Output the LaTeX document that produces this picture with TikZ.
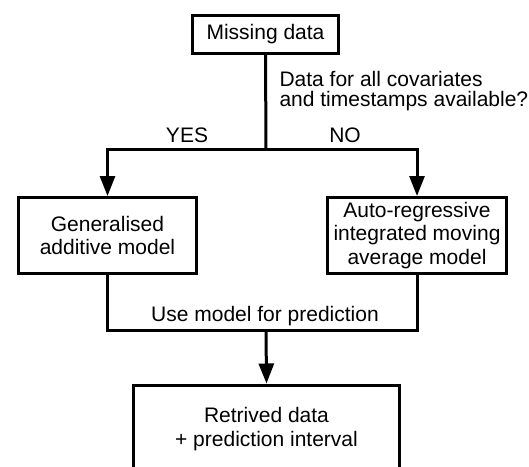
\documentclass[tikz,border=0pt]{standalone}
\usepackage{fontspec}
\setmainfont{Liberation Sans}
\usetikzlibrary{arrows.meta}
\begin{document}
\begin{tikzpicture}[x=1pt,y=-1pt,
  box/.style={draw,line width=3pt,inner sep=0pt,align=center},
  arr/.style={-{Triangle[length=20pt,width=15pt]}},
  every node/.style={font=\fontsize{21}{23.5}\selectfont}]
  \useasboundingbox (0,0) rectangle (529,466);
  \clip (0,0) rectangle (529,466);
  % boxes
  \node[box,minimum width=146,minimum height=38] (miss) at (265.5,34.5) {Missing data};
  \node[box,minimum width=178,minimum height=76] (gam) at (107.5,235.5) {Generalised\\additive model};
  \node[box,minimum width=179,minimum height=76] (arima) at (417,235.5) {Auto-regressive\\integrated moving\\average model};
  \node[box,minimum width=266,minimum height=88] (ret) at (266.5,429) {Retrived data\\+ prediction interval};
  % labels
  \node[anchor=west,align=left,font=\fontsize{21}{20}\selectfont] (quest) at (276,91) {Data for all covariates\\and timestamps available?};
  \node (yes) at (187,135) {YES};
  \node (no) at (345,135) {NO};
  \node (use) at (265,316) {Use model for prediction};
  % connectors
  \coordinate (split) at (266,149);
  \coordinate (join) at (266,330);
  \draw[line width=3pt] (miss.south) -- (split);
  \draw[line width=3pt,arr] (split) -| (gam.north);
  \draw[line width=3pt,arr] (split) -| (arima.north);
  \draw[line width=3pt] (gam.south) |- (join) -| (arima.south);
  \draw[line width=3pt,arr] (join) -- (ret.north);
\end{tikzpicture}
\end{document}
